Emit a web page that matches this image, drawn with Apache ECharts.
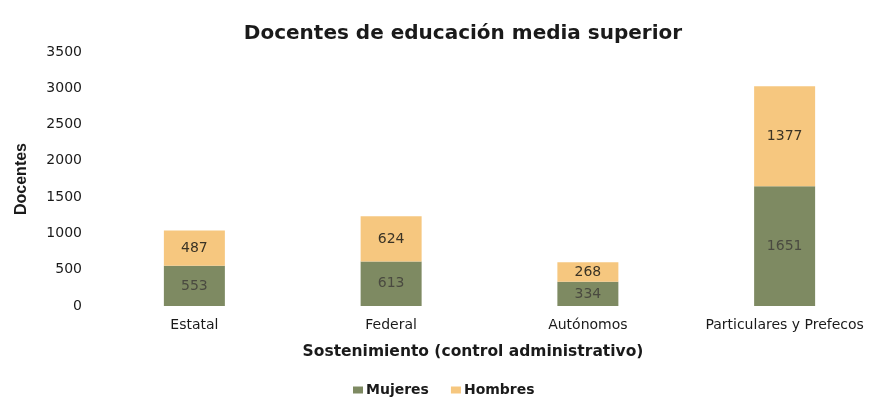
<!DOCTYPE html>
<html>
<head>
<meta charset="utf-8">
<script src="https://cdn.jsdelivr.net/npm/echarts@6/dist/echarts.min.js"></script>
<style>
  html, body { margin: 0; padding: 0; background: #fff; }
  #chart { width: 883px; height: 397px; }
</style>
</head>
<body>
<div id="chart"></div>
<script>
// datos
const categorias = ["Estatal", "Federal", "Autónomos", "Particulares y Prefecos"];
const mujeres = [553, 613, 334, 1651];
const hombres = [487, 624, 268, 1377];

const chart = echarts.init(document.getElementById("chart"));
const fuente = "DejaVu Sans, Verdana, sans-serif";

chart.setOption({
  animation: false,
  title: [
    {
      text: "Docentes de educación media superior",
      left: 458,
      textAlign: "center",
      top: 19,
      textStyle: { fontSize: 20, fontWeight: "bold", color: "#1a1a1a", fontFamily: fuente },
    },
    {
      text: "Sostenimiento (control administrativo)",
      left: 468,
      textAlign: "center",
      top: 339,
      textStyle: { fontSize: 15.5, fontWeight: "bold", color: "#1a1a1a", fontFamily: fuente },
    },
  ],
  legend: {
    data: ["Mujeres", "Hombres"],
    left: 348,
    top: 378,
    itemWidth: 10,
    itemHeight: 7,
    itemGap: 22,
    icon: "rect",
    textStyle: { fontSize: 14, fontWeight: "bold", color: "#1a1a1a", fontFamily: fuente, padding: [0, 0, 0, -2] },
  },
  grid: { left: 96, top: 52, width: 788, height: 254 },
  xAxis: {
    type: "category",
    data: categorias,
    axisLine: { show: false },
    axisTick: { show: false },
    axisLabel: { interval: 0, hideOverlap: false, fontSize: 14, color: "#1a1a1a", fontFamily: fuente, margin: 12 },
  },
  yAxis: {
    type: "value",
    min: 0,
    max: 3500,
    interval: 500,
    name: "Docentes",
    nameLocation: "middle",
    nameGap: 66,
    nameTextStyle: { fontSize: 16, fontWeight: "bold", color: "#1a1a1a", fontFamily: "Liberation Sans Narrow, Arial Narrow, sans-serif" },
    axisLine: { show: false },
    axisTick: { show: false },
    splitLine: { show: false },
    axisLabel: {
      fontSize: 14,
      color: "#1a1a1a",
      fontFamily: fuente,
      margin: 14,
      formatter: (v) => String(v),
    },
  },
  series: [
    {
      name: "Mujeres",
      type: "bar",
      stack: "total",
      data: mujeres,
      barWidth: "31%",
      itemStyle: { color: "#7e8a62" },
      label: { show: true, position: "inside", fontSize: 14, color: "#4a4a40", fontFamily: fuente },
    },
    {
      name: "Hombres",
      type: "bar",
      stack: "total",
      data: hombres,
      barWidth: "31%",
      itemStyle: { color: "#f6c77f" },
      label: { show: true, position: "inside", fontSize: 14, color: "#3a3325", fontFamily: fuente },
    },
  ],
});
</script>
</body>
</html>
